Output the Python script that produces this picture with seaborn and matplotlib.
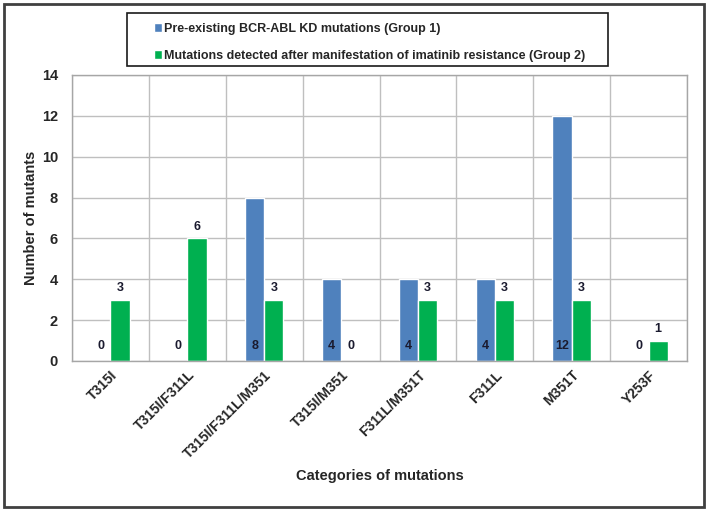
import matplotlib
matplotlib.use("Agg")
import matplotlib.pyplot as plt
import seaborn as sns
import pandas as pd
from matplotlib.patches import Rectangle

categories = ["T315I", "T315I/F311L", "T315I/F311L/M351", "T315I/M351",
              "F311L/M351T", "F311L", "M351T", "Y253F"]
group1 = [0, 0, 8, 4, 4, 4, 12, 0]
group2 = [3, 6, 3, 0, 3, 3, 3, 1]
series_names = ["Pre-existing BCR-ABL KD mutations (Group 1)",
                "Mutations detected after manifestation of imatinib resistance (Group 2)"]
yticks = [0, 2, 4, 6, 8, 10, 12, 14]

BLUE = "#4F81BD"
GREEN = "#00B050"

sns.set_theme(style="white")
plt.rcParams['font.family'] = ['Liberation Sans', 'DejaVu Sans']

df = pd.DataFrame({
    "cat": categories * 2,
    "val": group1 + group2,
    "group": [series_names[0]] * len(categories) + [series_names[1]] * len(categories),
})

fig = plt.figure(figsize=(7.09, 5.12), dpi=100)
ax = fig.add_axes([72 / 709, 1 - 361 / 512, (687 - 72) / 709, (361 - 75) / 512])

sns.barplot(data=df, x="cat", y="val", hue="group", order=categories,
            hue_order=series_names, palette=[BLUE, GREEN], width=0.5, gap=0,
            saturation=1, ax=ax, legend=True)

ax.set_ylim(0, 14)
ax.set_xlim(-0.5, len(categories) - 0.5)
ax.set_yticks(yticks)
ax.set_yticklabels([str(t) for t in yticks], fontsize=10.5, fontweight="bold")
ax.set_xticks(range(len(categories)))
ax.set_xticklabels(categories, rotation=45, ha="right", rotation_mode="anchor",
                   fontsize=10, fontweight="bold")
ax.set_xticks([i - 0.5 for i in range(len(categories) + 1)], minor=True)
ax.tick_params(axis="both", which="both", length=0)
ax.tick_params(axis="x", which="major", pad=5)
ax.tick_params(axis="y", pad=10)
ax.grid(True, axis="y", which="major", color="#BFBFBF", lw=1)
ax.grid(True, axis="x", which="minor", color="#BFBFBF", lw=1)
ax.grid(False, axis="x", which="major")
ax.set_axisbelow(True)
for s in ax.spines.values():
    s.set_color("#A6A6A6")
    s.set_linewidth(1)

ax.set_xlabel("Categories of mutations", fontsize=10.5, fontweight="bold", labelpad=6)
ax.set_ylabel("Number of mutants", fontsize=10.5, fontweight="bold", labelpad=3)

lab_kw = dict(ha="center", fontsize=9, fontweight="bold", color="#1A1A2E")
for bar, v in zip(ax.containers[0], group1):
    x = bar.get_x() + bar.get_width() / 2
    ax.annotate(str(v), (x, 0), xytext=(0, 10.5), textcoords="offset points",
                va="center", **lab_kw)
for bar, v in zip(ax.containers[1], group2):
    x = bar.get_x() + bar.get_width() / 2
    if v == 0:
        ax.annotate(str(v), (x, 0), xytext=(0, 10.5), textcoords="offset points",
                    va="center", **lab_kw)
    else:
        ax.annotate(str(v), (x, v), xytext=(0, 4), textcoords="offset points",
                    va="bottom", **lab_kw)

handles, labels = ax.get_legend_handles_labels()
ax.get_legend().remove()
leg = fig.legend(handles, labels, loc="upper left",
                 bbox_to_anchor=(150 / 709, 1 - 19 / 512),
                 frameon=False,
                 prop={"weight": "bold", "size": 9.0}, handlelength=0.65,
                 handleheight=0.65, handletextpad=0.2, labelspacing=1.2,
                 borderpad=0.3, borderaxespad=0)

fig.patches.append(Rectangle((127 / 709, 1 - 66 / 512), (608 - 127) / 709, 53 / 512,
                             transform=fig.transFigure, fill=False,
                             edgecolor="#1A1A1A", lw=1.2))
fig.patches.append(Rectangle((4 / 709, 1 - 507 / 512), 700 / 709, 503 / 512,
                             transform=fig.transFigure, fill=False,
                             edgecolor="#404040", lw=2))

fig.savefig("out.png", dpi=100)
